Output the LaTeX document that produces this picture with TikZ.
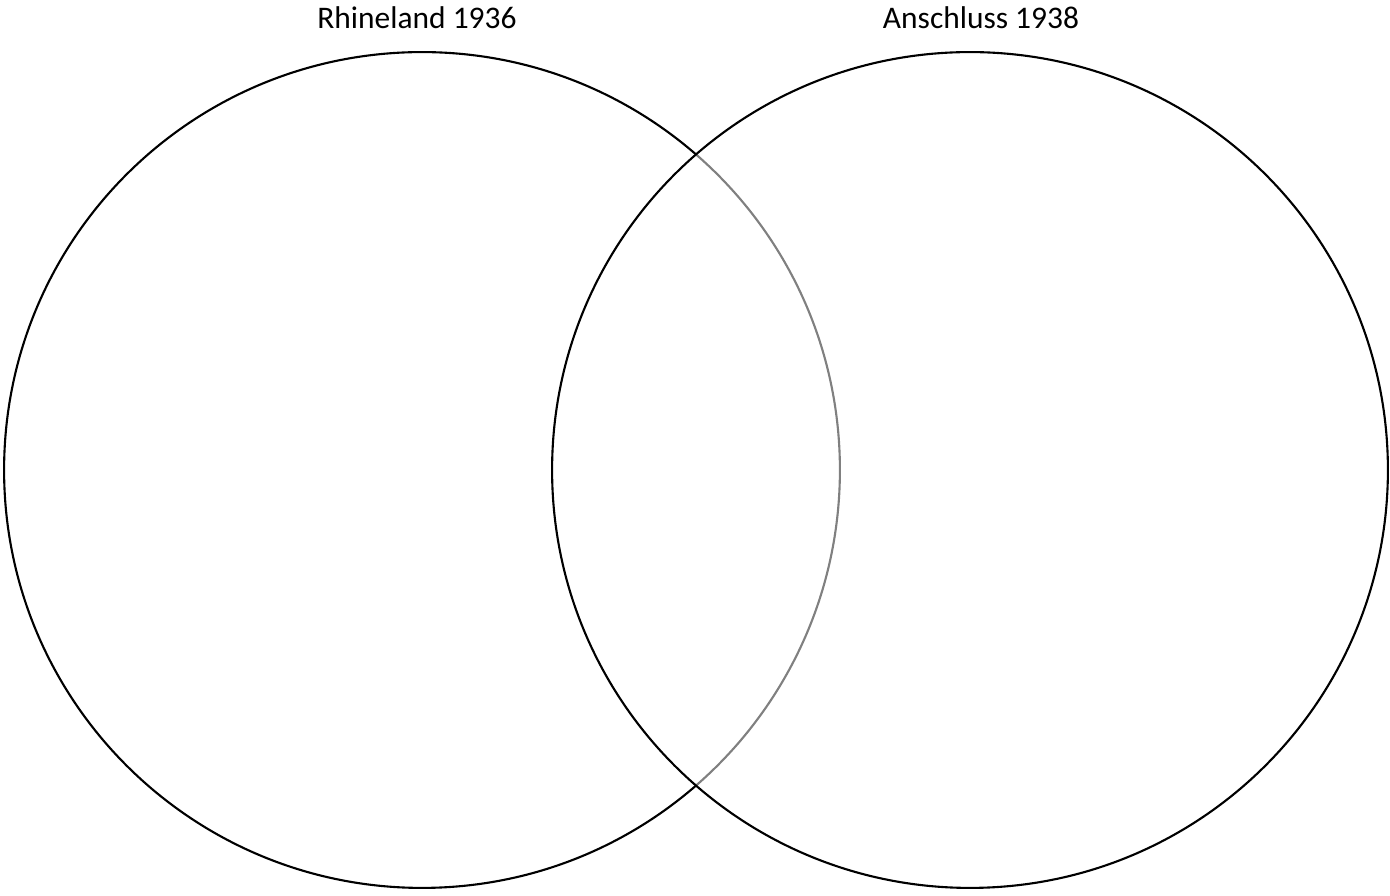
\documentclass[tikz,border=0pt]{standalone}
\usepackage{fontspec}
\setmainfont{Carlito}
\usetikzlibrary{positioning}

\begin{document}
\begin{tikzpicture}[
    x=0.02cm,y=0.02cm,
    ring/.style={circle,draw=black,line width=1.2pt,minimum size=16.72cm,inner sep=0pt},
    toplabel/.style={font=\fontsize{17.9}{21}\selectfont,inner sep=0pt,anchor=base}
]
\useasboundingbox (0,0) rectangle (1390,896);
% the two sets
\node[ring] (rhine) at (422,426) {};
\node[ring,fill=white,fill opacity=0.5] (anschluss) at (970,426) {};

% headings
\node[toplabel] (rhinelabel) at (417,867) {Rhineland 1936};
\node[toplabel] (anschlusslabel) at (981,867) {Anschluss 1938};
\end{tikzpicture}
\end{document}
